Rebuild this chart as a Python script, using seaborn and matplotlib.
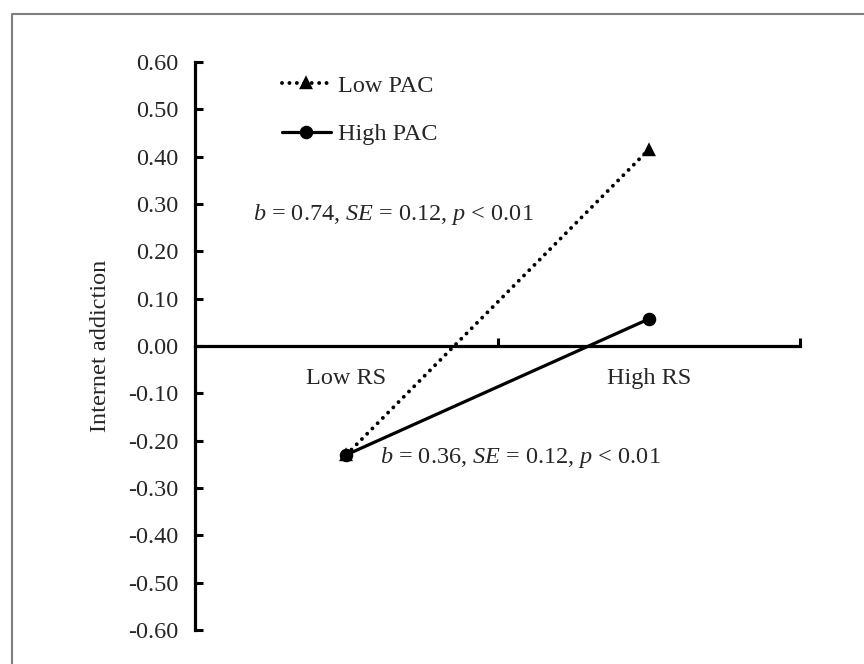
import matplotlib
matplotlib.use("Agg")
import matplotlib.pyplot as plt
from matplotlib.lines import Line2D
from matplotlib.ticker import FormatStrFormatter, FixedLocator
import seaborn as sns
import pandas as pd

categories = ["Low RS", "High RS"]
groups = ["Low PAC", "High PAC"]
low_pac = [-0.23, 0.415]
high_pac = [-0.23, 0.057]
y_ticks = [-0.6, -0.5, -0.4, -0.3, -0.2, -0.1, 0.0, 0.1, 0.2, 0.3, 0.4, 0.5, 0.6]

df = pd.DataFrame({
    "RS": categories * 2,
    "PAC": [groups[0]] * 2 + [groups[1]] * 2,
    "value": low_pac + high_pac,
})

sns.set_theme(style="white")
plt.rcParams["font.family"] = ["Liberation Serif", "DejaVu Serif"]
plt.rcParams["mathtext.fontset"] = "custom"
plt.rcParams["mathtext.rm"] = "Liberation Serif"
plt.rcParams["mathtext.it"] = "Liberation Serif:italic"
plt.rcParams["axes.unicode_minus"] = False

FS = 17.5
fig = plt.figure(figsize=(8.64, 6.64), dpi=100)
ax = fig.add_axes([195 / 864, 34 / 664, 605 / 864, 568 / 664])

sns.pointplot(data=df, x="RS", y="value", hue="PAC", order=categories,
              hue_order=groups, markers=["^", "o"], linestyles=[":", "-"],
              palette=["black", "black"], errorbar=None, ax=ax,
              markersize=8, linewidth=2.3, legend=False)

lines = [l for l in ax.lines if len(l.get_xdata()) == 2]
l_low, l_high = lines[0], lines[1]
l_low.set_linewidth(2.8)
l_low.set_linestyle((0, (0.01, 1.9)))
l_low.set_dash_capstyle("round")
l_low.set_markersize(7)
for l in (l_low, l_high):
    l.set_clip_on(False)
l_high.set_zorder(l_low.get_zorder() + 1)

ax.set_xlim(-0.5, 1.5)
ax.set_ylim(-0.6, 0.6)
ax.yaxis.set_major_locator(FixedLocator(y_ticks))
ax.yaxis.set_major_formatter(FormatStrFormatter("%.2f"))
ax.set_xticks([0, 1])
ax.set_xticklabels(categories)
ax.set_xticks([0.5, 1.5], minor=True)
ax.tick_params(axis="x", which="major", length=0, pad=16, labelsize=FS)
ax.tick_params(axis="x", which="minor", direction="in", length=6, width=2.2,
               color="black", bottom=True)
ax.tick_params(axis="y", which="major", direction="in", length=6, width=2.2,
               color="black", left=True, pad=12, labelsize=FS)
for s in ("top", "right"):
    ax.spines[s].set_visible(False)
ax.spines["bottom"].set_position(("data", 0))
for s in ("left", "bottom"):
    ax.spines[s].set_linewidth(2.3)
    ax.spines[s].set_color("black")
ax.set_xlabel("")
ax.set_ylabel("Internet addiction", fontsize=FS, labelpad=12)
ax.patch.set_alpha(0)

ax.text(-0.307, 0.277, r"$b$ = 0.74, $SE$ = 0.12, $p$ < 0.01", fontsize=FS,
        ha="left", va="center")
ax.text(0.112, -0.235, r"$b$ = 0.36, $SE$ = 0.12, $p$ < 0.01", fontsize=FS,
        ha="left", va="center")

ax.legend(handles=[l_low, l_high], labels=groups, loc="center left",
          bbox_to_anchor=(282 / 864, 1 - 110 / 664), bbox_transform=fig.transFigure,
          frameon=False, fontsize=FS, handlelength=2.0, handletextpad=0.3,
          labelspacing=1.1, borderpad=0, borderaxespad=0)

fig.add_artist(Line2D([12 / 864, 12 / 864, 1.0], [0.0, 1 - 14 / 664, 1 - 14 / 664],
                      transform=fig.transFigure, color="#7f7f7f", linewidth=1.5))

fig.savefig("out.png", dpi=100)
